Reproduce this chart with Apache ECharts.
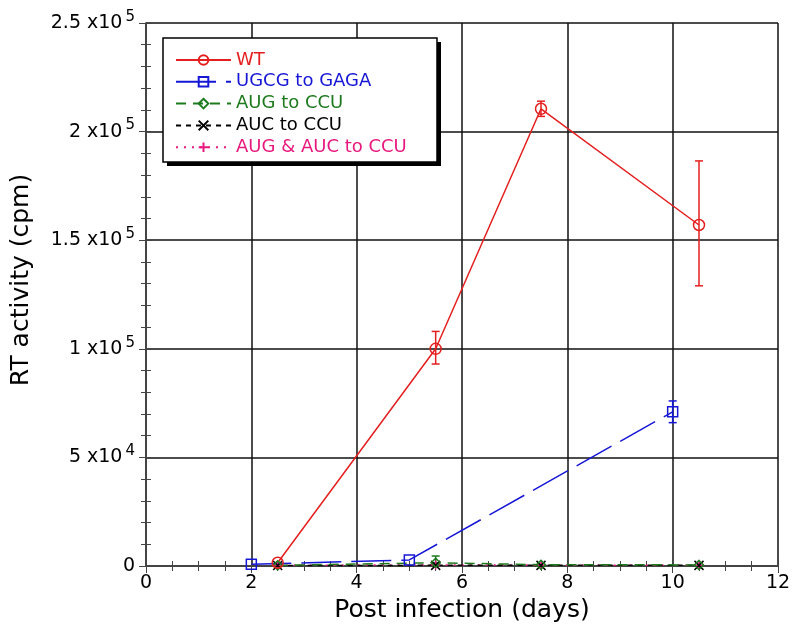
<!DOCTYPE html>
<html><head><meta charset="utf-8">
<script src="https://cdn.jsdelivr.net/npm/echarts@6/dist/echarts.min.js"></script>
<style>html,body{margin:0;padding:0;background:#fff}#c{width:800px;height:639px}</style>
</head><body><div id="c"></div>
<script>
// ---- data ----
const seriesNames = ['WT', 'UGCG to GAGA', 'AUG to CCU', 'AUC to CCU', 'AUG & AUC to CCU'];
const wtX = [2.5, 5.5, 7.5, 10.5];
const wtY = [1500, 100000, 210500, 157000];
const wtErrLow = [null, 93000, 207000, 129000];
const wtErrHigh = [null, 108000, 214000, 186500];
const ugcgX = [2, 5, 10];
const ugcgY = [800, 2800, 71000];
const ugcgErrLow = [null, null, 66000];
const ugcgErrHigh = [null, null, 76000];
const augX = [2.5, 5.5, 7.5, 10.5];
const augY = [300, 1500, 600, 500];
const augErrLow = [null, 0, null, null];
const augErrHigh = [null, 4600, null, null];
const aucX = [2.5, 5.5, 7.5, 10.5];
const aucY = [200, 300, 300, 300];
const bothX = [2.5, 5.5, 7.5, 10.5];
const bothY = [300, 500, 400, 400];
const xTickLabels = ['0', '2', '4', '6', '8', '10', '12'];
const yTickMantissa = ['0', '5', '1', '1.5', '2', '2.5'];
const yTickExp = ['', '4', '5', '5', '5', '5'];
const axisTitleX = 'Post infection (days)';
const axisTitleY = 'RT activity (cpm)';

const colors = ['#e41f1f', '#1616d6', '#1d7a1d', '#000000', '#e8197e'];
const FONT = 'DejaVu Sans, Liberation Sans, Arial, sans-serif';

function pts(xs, ys) { return xs.map((x, i) => [x, ys[i]]); }
function errs(xs, lo, hi) {
  const out = [];
  xs.forEach((x, i) => { if (lo[i] !== null && hi[i] !== null) out.push([x, lo[i], hi[i]]); });
  return out;
}

const chart = echarts.init(document.getElementById('c'), null, {renderer: 'canvas'});

function errSeries(name, data, color) {
  return {
    name: name, type: 'custom', data: data, z: 4,
    renderItem: function (params, api) {
      const x = api.value(0);
      const lo = api.coord([x, api.value(1)]);
      const hi = api.coord([x, api.value(2)]);
      const w = 4;
      const st = {stroke: color, lineWidth: 1.5};
      return {type: 'group', children: [
        {type: 'line', shape: {x1: lo[0], y1: lo[1], x2: hi[0], y2: hi[1]}, style: st},
        {type: 'line', shape: {x1: lo[0] - w, y1: lo[1], x2: lo[0] + w, y2: lo[1]}, style: st},
        {type: 'line', shape: {x1: hi[0] - w, y1: hi[1], x2: hi[0] + w, y2: hi[1]}, style: st}
      ]};
    },
    encode: {x: 0, y: [1, 2]}
  };
}

function lineSeries(name, data, color, dash, symbol, size) {
  return {
    name: name, type: 'line', data: data, z: 5,
    symbol: symbol, symbolSize: size, showSymbol: true,
    lineStyle: {color: color, width: 1.5, type: dash},
    itemStyle: {color: 'rgba(255,255,255,0)', borderColor: color, borderWidth: 1.5},
    emphasis: {disabled: true},
    animation: false
  };
}

const xSymbol = 'path://M0,0L10,10M10,0L0,10';
const plusSymbol = 'path://M5,0L5,10M0,5L10,5';

const tickCommon = {
  axisLine: {show: true, lineStyle: {color: '#444', width: 1.5}},
  axisTick: {show: true, inside: true, length: 7, lineStyle: {color: '#444', width: 1}},
};

const option = {
  animation: false,
  backgroundColor: '#fff',
  textStyle: {fontFamily: FONT},
  grid: {left: 146, right: 22, top: 23, bottom: 73, containLabel: false},
  graphic: [
    {type: 'rect', shape: {x: 167, y: 42, width: 274, height: 124}, style: {fill: '#000'}, z: 10},
    {type: 'rect', shape: {x: 163, y: 38, width: 274, height: 124}, style: {fill: '#fff', stroke: '#000', lineWidth: 1.5}, z: 11},
    {type: 'text', x: 21, y: 280, rotation: Math.PI / 2, z: 12,
      style: {text: axisTitleY, fontSize: 25, fontFamily: FONT, fill: '#000', align: 'center', verticalAlign: 'middle'}}
  ],
  legend: {
    orient: 'vertical', left: 175, top: 51, z: 20,
    data: seriesNames.map((n, i) => ({name: n, textStyle: {color: colors[i]}})),
    itemWidth: 55, itemHeight: 12, itemGap: 3.8, itemTextGap: 7,
    padding: 0,
    backgroundColor: 'transparent', borderWidth: 0,
    textStyle: {fontSize: 18, fontFamily: FONT},
    selectedMode: false
  },
  xAxis: [{
    type: 'value', min: 0, max: 12, interval: 2,
    name: axisTitleX, nameLocation: 'middle', nameGap: 27,
    nameTextStyle: {fontSize: 25, color: '#000', fontFamily: FONT, verticalAlign: 'top'},
    axisLine: tickCommon.axisLine, axisTick: tickCommon.axisTick,
    minorTick: {show: true, splitNumber: 4, length: 5, lineStyle: {color: '#444', width: 1}},
    axisLabel: {fontSize: 19, color: '#000', margin: 8, fontFamily: FONT,
      formatter: v => xTickLabels[Math.round(v / 2)]},
    splitLine: {show: true, lineStyle: {color: '#111', width: 1.5}}
  }, {
    type: 'value', min: 0, max: 12, interval: 2, position: 'top',
    axisLine: tickCommon.axisLine, axisTick: tickCommon.axisTick,
    minorTick: {show: true, splitNumber: 4, length: 5, lineStyle: {color: '#444', width: 1}},
    axisLabel: {show: false}, splitLine: {show: false}
  }],
  yAxis: [{
    type: 'value', min: 0, max: 250000, interval: 50000,
    axisLine: tickCommon.axisLine, axisTick: tickCommon.axisTick,
    minorTick: {show: true, splitNumber: 5, length: 5, lineStyle: {color: '#444', width: 1}},
    axisLabel: {
      margin: 11, color: '#000', fontFamily: FONT,
      formatter: function (v) {
        const i = Math.round(v / 50000);
        if (yTickExp[i] === '') return '{m|' + yTickMantissa[i] + '}';
        return '{m|' + yTickMantissa[i] + ' x10}{s|' + yTickExp[i] + '}';
      },
      rich: {
        m: {fontSize: 19, color: '#000', fontFamily: FONT, lineHeight: 20},
        s: {fontSize: 15, color: '#000', fontFamily: FONT, lineHeight: 20, padding: [0, 0, 12, 3]}
      }
    },
    splitLine: {show: true, lineStyle: {color: '#111', width: 1.5}}
  }, {
    type: 'value', min: 0, max: 250000, interval: 50000, position: 'right',
    axisLine: tickCommon.axisLine, axisTick: tickCommon.axisTick,
    minorTick: {show: true, splitNumber: 5, length: 5, lineStyle: {color: '#444', width: 1}},
    axisLabel: {show: false}, splitLine: {show: false}
  }],
  series: [
    errSeries('wtErr', errs(wtX, wtErrLow, wtErrHigh), colors[0]),
    errSeries('ugcgErr', errs(ugcgX, ugcgErrLow, ugcgErrHigh), colors[1]),
    errSeries('augErr', errs(augX, augErrLow, augErrHigh), colors[2]),
    lineSeries(seriesNames[4], pts(bothX, bothY), colors[4], [2, 6], plusSymbol, 9),
    lineSeries(seriesNames[3], pts(aucX, aucY), colors[3], [5, 5], xSymbol, 9),
    lineSeries(seriesNames[2], pts(augX, augY), colors[2], [10, 7], 'diamond', 9),
    lineSeries(seriesNames[1], pts(ugcgX, ugcgY), colors[1], [40, 10], 'rect', 10),
    lineSeries(seriesNames[0], pts(wtX, wtY), colors[0], 'solid', 'circle', 11)
  ]
};
chart.setOption(option);
</script>
</body></html>
